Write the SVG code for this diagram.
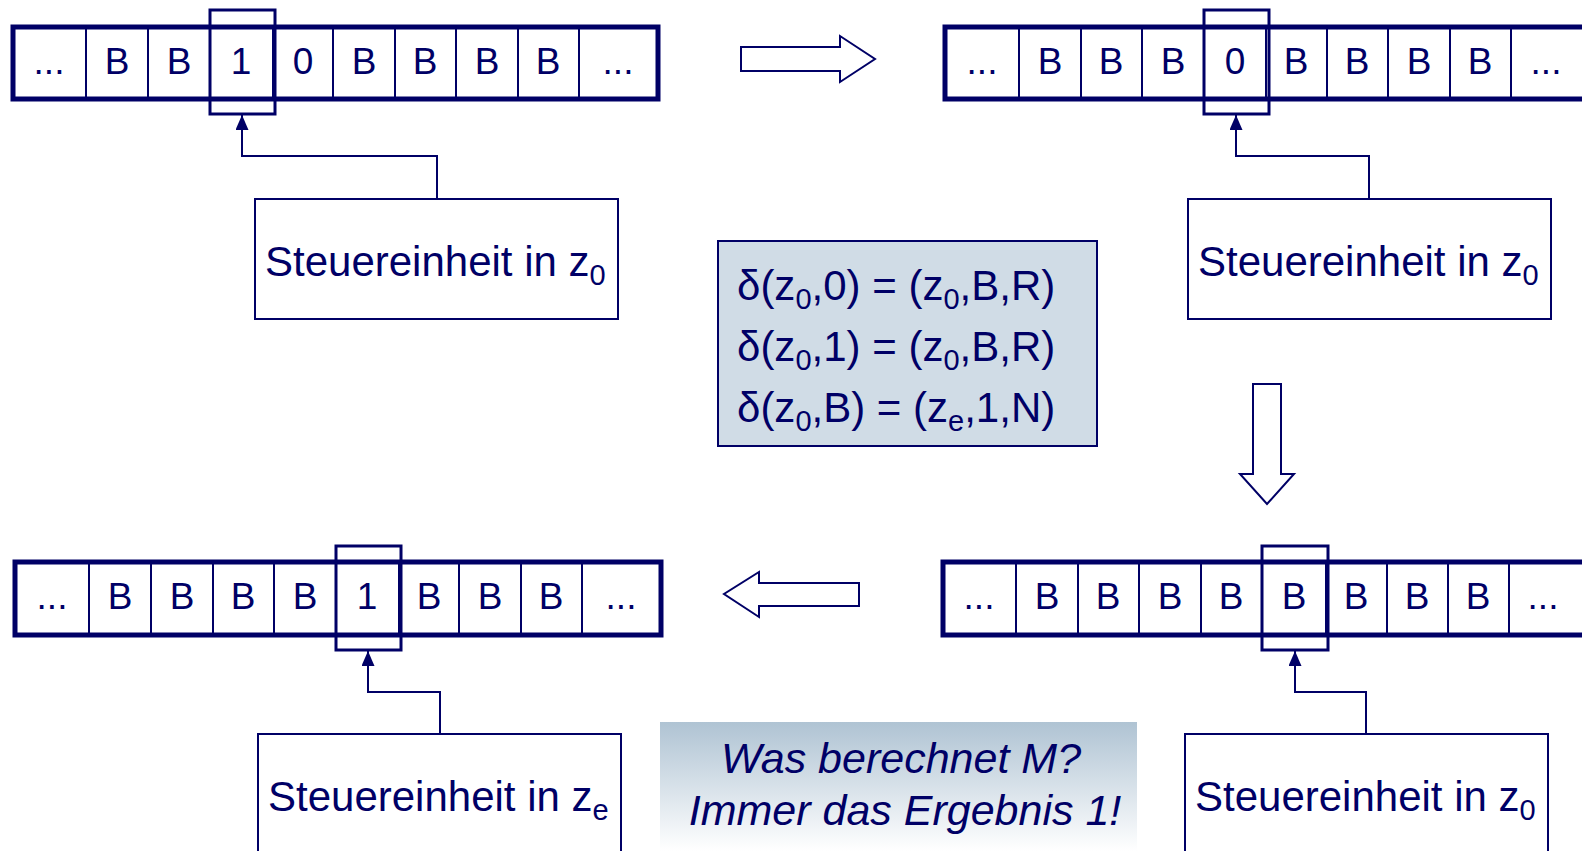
<svg xmlns="http://www.w3.org/2000/svg" width="1582" height="851" viewBox="0 0 1582 851">
<defs>
<style>
.tape{fill:#fff;stroke:#000066;stroke-width:5}
.div{stroke:#000066;stroke-width:2;fill:none}
.head{fill:none;stroke:#000066;stroke-width:3}
.box{fill:#fff;stroke:#000066;stroke-width:2}
.conn{fill:none;stroke:#000066;stroke-width:2}
.harrow{fill:#fff;stroke:#000066;stroke-width:2}
.t{font-family:"Liberation Sans",Arial,sans-serif;fill:#000066}
.cell{font-size:37px;text-anchor:middle}
.lbl{font-size:42px}
.sub{font-size:29px}
.delta{font-size:42px}
.q{font-size:43px;font-style:italic;text-anchor:middle}
</style>
<marker id="ah" markerWidth="15" markerHeight="13" refX="15" refY="6.5" orient="auto" markerUnits="userSpaceOnUse" viewBox="0 0 15 13">
<path d="M0,0 L15,6.5 L0,13 Z" fill="#000066"/>
</marker>
<linearGradient id="qg" x1="0" y1="0" x2="0" y2="1">
<stop offset="0" stop-color="#afc3d3"/>
<stop offset="1" stop-color="#ffffff"/>
</linearGradient>
</defs>
<rect width="1582" height="851" fill="#fff"/>

<g id="tape1">
<rect class="tape" x="13" y="27" width="645" height="72"/>
<path class="div" d="M86,27V99M148,27V99M210,27V99M273,27V99M333,27V99M395,27V99M456,27V99M518,27V99M579,27V99"/>
<g class="t cell">
<text x="49" y="74">...</text><text x="117" y="74">B</text><text x="179" y="74">B</text><text x="241" y="74">1</text><text x="303" y="74">0</text><text x="364" y="74">B</text><text x="425" y="74">B</text><text x="487" y="74">B</text><text x="548" y="74">B</text><text x="618" y="74">...</text>
</g>
<rect class="head" x="210" y="10" width="65" height="104"/>
</g>

<g id="tape2">
<rect class="tape" x="945" y="27" width="660" height="72"/>
<path class="div" d="M1019,27V99M1081,27V99M1142,27V99M1204,27V99M1266,27V99M1327,27V99M1388,27V99M1450,27V99M1511,27V99"/>
<g class="t cell">
<text x="982" y="74">...</text><text x="1050" y="74">B</text><text x="1111" y="74">B</text><text x="1173" y="74">B</text><text x="1235" y="74">0</text><text x="1296" y="74">B</text><text x="1357" y="74">B</text><text x="1419" y="74">B</text><text x="1480" y="74">B</text><text x="1546" y="74">...</text>
</g>
<rect class="head" x="1204" y="10" width="65" height="104"/>
</g>

<g id="tape3">
<rect class="tape" x="15" y="562" width="646" height="73"/>
<path class="div" d="M89,562V635M151,562V635M213,562V635M274,562V635M336,562V635M399,562V635M459,562V635M521,562V635M582,562V635"/>
<g class="t cell">
<text x="52" y="609">...</text><text x="120" y="609">B</text><text x="182" y="609">B</text><text x="243" y="609">B</text><text x="305" y="609">B</text><text x="367" y="609">1</text><text x="429" y="609">B</text><text x="490" y="609">B</text><text x="551" y="609">B</text><text x="621" y="609">...</text>
</g>
<rect class="head" x="336" y="546" width="65" height="104"/>
</g>

<g id="tape4">
<rect class="tape" x="943" y="562" width="660" height="73"/>
<path class="div" d="M1016,562V635M1078,562V635M1139,562V635M1201,562V635M1262,562V635M1326,562V635M1387,562V635M1448,562V635M1509,562V635"/>
<g class="t cell">
<text x="979" y="609">...</text><text x="1047" y="609">B</text><text x="1108" y="609">B</text><text x="1170" y="609">B</text><text x="1231" y="609">B</text><text x="1294" y="609">B</text><text x="1356" y="609">B</text><text x="1417" y="609">B</text><text x="1478" y="609">B</text><text x="1543" y="609">...</text>
</g>
<rect class="head" x="1262" y="546" width="66" height="104"/>
</g>

<g id="control1">
<rect class="box" x="255" y="199" width="363" height="120"/>
<text class="t lbl" x="265" y="276">Steuereinheit in z<tspan class="sub" dy="9">0</tspan></text>
</g>
<g id="control2">
<rect class="box" x="1188" y="199" width="363" height="120"/>
<text class="t lbl" x="1198" y="276">Steuereinheit in z<tspan class="sub" dy="9">0</tspan></text>
</g>
<g id="control3">
<rect class="box" x="258" y="734" width="363" height="130"/>
<text class="t lbl" x="268" y="811">Steuereinheit in z<tspan class="sub" dy="9">e</tspan></text>
</g>
<g id="control4">
<rect class="box" x="1185" y="734" width="363" height="130"/>
<text class="t lbl" x="1195" y="811">Steuereinheit in z<tspan class="sub" dy="9">0</tspan></text>
</g>

<g id="delta">
<rect x="718" y="241" width="379" height="205" fill="#d0dce6" stroke="#000066" stroke-width="2"/>
<g class="t delta">
<text x="737" y="300">δ(z<tspan class="sub" dy="9">0</tspan><tspan dy="-9">,0) = (z</tspan><tspan class="sub" dy="9">0</tspan><tspan dy="-9">,B,R)</tspan></text>
<text x="737" y="361">δ(z<tspan class="sub" dy="9">0</tspan><tspan dy="-9">,1) = (z</tspan><tspan class="sub" dy="9">0</tspan><tspan dy="-9">,B,R)</tspan></text>
<text x="737" y="422">δ(z<tspan class="sub" dy="9">0</tspan><tspan dy="-9">,B) = (z</tspan><tspan class="sub" dy="9">e</tspan><tspan dy="-9">,1,N)</tspan></text>
</g>
</g>

<g id="question">
<rect x="660" y="722" width="477" height="129" fill="url(#qg)"/>
<text class="t q" x="901" y="773">Was berechnet M?</text>
<text class="t q" x="905" y="825">Immer das Ergebnis 1!</text>
</g>

<g id="connectors">
<path class="conn" d="M437,199V156H242V115" marker-end="url(#ah)"/>
<path class="conn" d="M1369,199V156H1236V115" marker-end="url(#ah)"/>
<path class="conn" d="M440,734V692H368V651" marker-end="url(#ah)"/>
<path class="conn" d="M1366,734V692H1295V651" marker-end="url(#ah)"/>
<polygon class="harrow" points="741,47 840,47 840,36 875,59 840,82 840,71 741,71"/>
<polygon class="harrow" points="1253,384 1281,384 1281,474 1294,474 1267,504 1240,474 1253,474"/>
<polygon class="harrow" points="859,583 759,583 759,572 724,594 759,617 759,606 859,606"/>
</g>
</svg>
